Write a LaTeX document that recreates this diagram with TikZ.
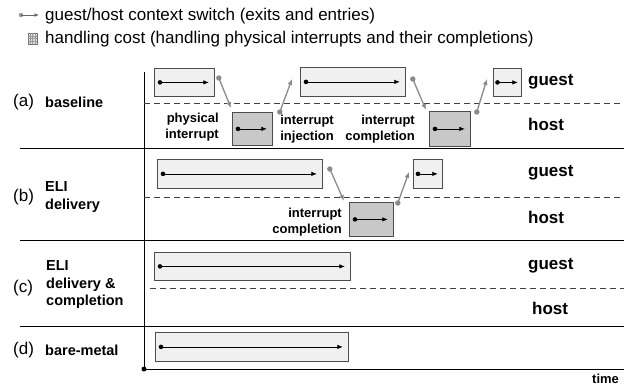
\documentclass[tikz,border=0pt]{standalone}
\usepackage{fontspec}
\setmainfont{Liberation Sans}
\usetikzlibrary{arrows.meta,calc}
\definecolor{connc}{HTML}{8A8A8A}
\definecolor{lightfill}{HTML}{F0F0F0}
\definecolor{darkfill}{HTML}{C8C8C8}
\newcommand\flowarrow[1]{%
  \fill ($(#1.west)+(6,0)$) circle (2.3pt);
  \draw[flowline] ($(#1.west)+(6,0)$) -- ($(#1.east)+(-6,0)$);}
\begin{document}
\begin{tikzpicture}[x=1pt,y=-1pt,
  lbox/.style={draw=black!70, fill=lightfill, line width=0.8pt, inner sep=0pt, anchor=north west},
  dbox/.style={draw=black!70, fill=darkfill, line width=0.8pt, inner sep=0pt, anchor=north west},
  flowline/.style={line width=0.7pt, -{Latex[length=5.5pt,width=4.5pt]}},
  conn/.style={draw=connc, line width=1.3pt, -{Latex[length=6pt,width=5pt]}},
  sep/.style={line width=0.9pt},
  dsep/.style={line width=0.9pt, black!75, dash pattern=on 6pt off 4pt},
  lgd/.style={font=\fontsize{17}{20}\selectfont, inner sep=0pt},
  rowtag/.style={font=\fontsize{17}{20}\selectfont, inner sep=0pt, anchor=west},
  rowname/.style={font=\bfseries\fontsize{14.5}{17.5}\selectfont, inner sep=0pt, anchor=west, align=left},
  side/.style={font=\bfseries\fontsize{17}{20}\selectfont, inner sep=0pt, anchor=west},
  note/.style={font=\bfseries\fontsize{13}{15.5}\selectfont, inner sep=0pt, anchor=east, align=right}]
\useasboundingbox (0,0) rectangle (624,385);
\clip (0,0) rectangle (624,385);

% legend
\coordinate (lg1s) at (21,15);
\coordinate (lg1e) at (39,15);
\fill[black!40] (lg1s) circle (2.2pt);
\draw[black!60, line width=0.9pt, -{Latex[length=4.5pt,width=4pt]}] (lg1s) -- (lg1e);
\node[lgd, anchor=base west] (l1) at (45,21) {guest/host context switch (exits and entries)};
\draw[black!55, fill=black!12, line width=0.6pt] (28,33) rectangle (37,44);
\foreach \g in {30.25,32.5,34.75} \draw[black!40, line width=0.3pt] (\g,33) -- (\g,44);
\foreach \g in {35.75,38.5,41.25} \draw[black!40, line width=0.3pt] (28,\g) -- (37,\g);
\node[lgd, anchor=base west] (l2) at (45,44) {handling cost (handling physical interrupts and their completions)};

% frame lines
\coordinate (axtop) at (144,72);
\coordinate (axorg) at (144,369);
\coordinate (axend) at (624,369);
\draw[line width=1pt] (axtop) -- (axorg) -- (axend);
\fill (axorg) circle (2.5pt);
\draw[sep] (20,148) -- (624,148);
\draw[sep] (20,240) -- (624,240);
\draw[sep] (20,326) -- (624,326);
\draw[dsep] (144,103) -- (624,103);
\draw[dsep] (144,197) -- (624,197);
\draw[dsep] (150,288) -- (624,288);
\node[font=\bfseries\fontsize{13}{15}\selectfont, inner sep=0pt, anchor=base west] (time) at (592,383) {time};

% row labels
\node[rowtag] (ta) at (13,102) {(a)};
\node[rowname] (na) at (45,102) {baseline};
\node[rowtag] (tb) at (13,197) {(b)};
\node[rowname] (nb) at (45,197) {ELI\\delivery};
\node[rowtag] (tc) at (13,288) {(c)};
\node[rowname] (nc) at (46,285) {ELI\\delivery \&\\completion};
\node[rowtag] (td) at (13,350) {(d)};
\node[rowname] (nd) at (45,350) {bare-metal};

% guest / host
\node[side] (ga) at (528,82) {guest};
\node[side] (ha) at (528,124) {host};
\node[side] (gb) at (528,173) {guest};
\node[side] (hb) at (528,217) {host};
\node[side] (gc) at (528,266) {guest};
\node[side] (hc) at (532,308) {host};

% row (a)
\node[lbox, minimum width=60pt, minimum height=28pt] (a1) at (154,68) {};
\node[dbox, minimum width=40pt, minimum height=33pt] (a2) at (232,112) {};
\node[lbox, minimum width=105pt, minimum height=29pt] (a3) at (300,67) {};
\node[dbox, minimum width=41pt, minimum height=35pt] (a4) at (429,111) {};
\node[lbox, minimum width=28pt, minimum height=28pt] (a5) at (493,68) {};
\flowarrow{a1}\flowarrow{a2}\flowarrow{a3}\flowarrow{a4}
\fill ($(a5.west)+(4.5,0)$) circle (2.3pt);
\draw[flowline] ($(a5.west)+(4.5,0)$) -- ($(a5.east)+(-4,0)$);

\coordinate (c1s) at ($(a1.north east)+(4,10)$);
\coordinate (c1e) at ($(a2.north west)+(-1,-4)$);
\coordinate (c2s) at ($(a2.north east)+(7,0)$);
\coordinate (c2e) at ($(a3.north west)+(-8,12)$);
\coordinate (c3s) at ($(a3.north east)+(7,12)$);
\coordinate (c3e) at ($(a4.north west)+(-3,-1)$);
\coordinate (c4s) at ($(a4.north east)+(6,1)$);
\coordinate (c4e) at ($(a5.north west)+(-6,11)$);
\foreach \s/\e in {c1s/c1e,c2s/c2e,c3s/c3e,c4s/c4e}{
  \fill[connc] (\s) circle (2.7pt);
  \draw[conn] (\s) -- (\e);}

\node[note] (pa) at (219,127) {physical\\interrupt};
\node[note] (ia) at (334,129) {interrupt\\injection};
\node[note] (ca) at (415,129) {interrupt\\completion};

% row (b)
\node[lbox, minimum width=165pt, minimum height=29pt] (b1) at (157,159) {};
\node[dbox, minimum width=44pt, minimum height=34pt] (b2) at (349,202) {};
\node[lbox, minimum width=29pt, minimum height=29pt] (b3) at (413,159) {};
\flowarrow{b1}\flowarrow{b2}
\fill ($(b3.west)+(5,0)$) circle (2.3pt);
\draw[flowline] ($(b3.west)+(5,0)$) -- ($(b3.east)+(-5,0)$);
\coordinate (c5s) at ($(b1.north east)+(7,10)$);
\coordinate (c5e) at ($(b2.north west)+(-5,-1)$);
\coordinate (c6s) at ($(b2.north east)+(4,1)$);
\coordinate (c6e) at ($(b3.north west)+(-4,13)$);
\foreach \s/\e in {c5s/c5e,c6s/c6e}{
  \fill[connc] (\s) circle (2.7pt);
  \draw[conn] (\s) -- (\e);}
\node[note] (cb) at (342,222) {interrupt\\completion};

% row (c)
\node[lbox, minimum width=196pt, minimum height=28pt] (cc1) at (154,252) {};
\flowarrow{cc1}

% row (d)
\node[lbox, minimum width=193pt, minimum height=29pt] (d1) at (155,332) {};
\flowarrow{d1}
\end{tikzpicture}
\end{document}
